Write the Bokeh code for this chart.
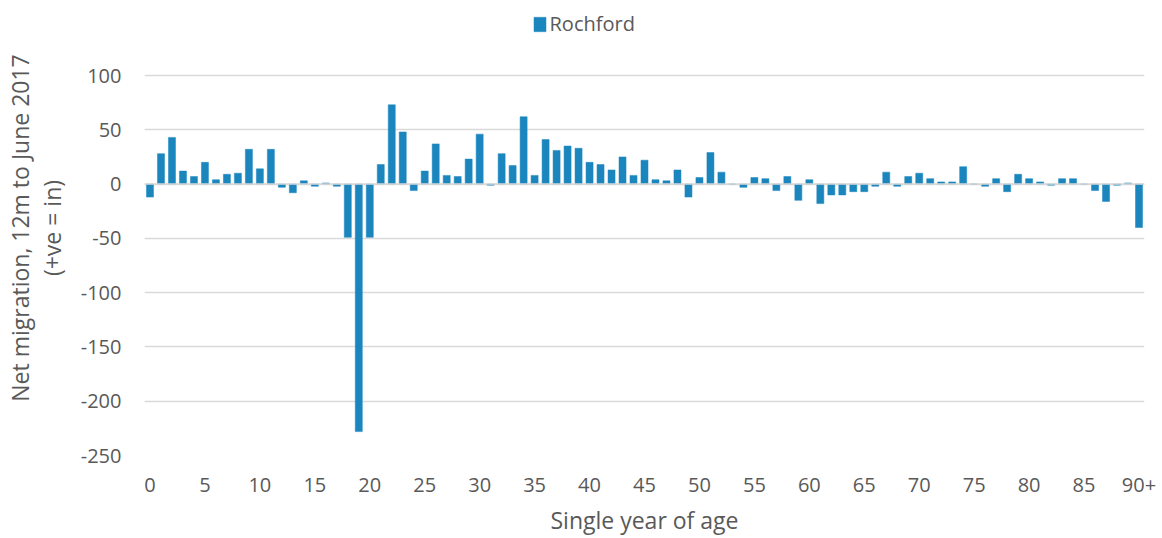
from bokeh.plotting import figure
from bokeh.models import ColumnDataSource, Range1d, FixedTicker, Legend, LegendItem, Span
from bokeh.embed import file_html
from bokeh.resources import INLINE

ages = list(range(91))
age_tick_values = list(range(0, 91, 5))
age_tick_labels = [str(a) for a in range(0, 90, 5)] + ["90+"]
net_migration = [-12, 28, 43, 12, 7, 20, 4, 9, 10, 32,
                 14, 32, -3, -8, 3, -2, 1, -2, -49, -228,
                 -49, 18, 73, 48, -6, 12, 37, 8, 7, 23,
                 46, -1, 28, 17, 62, 8, 41, 31, 35, 33,
                 20, 18, 13, 25, 8, 22, 4, 3, 13, -12,
                 6, 29, 11, 0, -3, 6, 5, -6, 7, -15,
                 4, -18, -10, -10, -7, -7, -2, 11, -2, 7,
                 10, 5, 2, 2, 16, 0, -2, 5, -7, 9,
                 5, 2, -1, 5, 5, 0, -6, -16, -1, 1, -40]
y_ticks = [-250, -200, -150, -100, -50, 0, 50, 100]
y_tick_labels = ["-250", "-200", "-150", "-100", "-50", "0", "50", "100"]
series_name = "Rochford"

FONT = "Open Sans"
TXT = "#595959"
GRID = "#d9d9d9"
BAR = "#1b86be"

# plot area spans 380 px for 350 units; extend the frame to the top edge so the
# legend (drawn inside the frame) is not clipped
PX_PER_UNIT = 380 / 350
Y_TOP = 100 + 75 / PX_PER_UNIT

src = ColumnDataSource(dict(age=ages, net=net_migration))

p = figure(width=1162, height=538, output_backend="svg", toolbar_location=None,
           x_range=Range1d(-0.5, 90.5), y_range=Range1d(-250, Y_TOP),
           min_border_left=143, min_border_right=18, min_border_top=0, min_border_bottom=83)
p.outline_line_color = None
p.background_fill_color = "white"
p.border_fill_color = "white"

r = p.vbar(x="age", top="net", width=0.64, bottom=0, source=src,
           fill_color=BAR, line_color=BAR, line_width=0.5)

p.add_layout(Span(location=0, dimension="width", line_color=GRID, line_width=1.5))

# axes
p.xaxis.ticker = FixedTicker(ticks=age_tick_values)
p.xaxis.major_label_overrides = {v: l for v, l in zip(age_tick_values, age_tick_labels)}
p.yaxis.ticker = FixedTicker(ticks=y_ticks)
p.yaxis.major_label_overrides = {v: l for v, l in zip(y_ticks, y_tick_labels)}
for ax in (p.xaxis, p.yaxis):
    ax.axis_line_color = None
    ax.major_tick_line_color = None
    ax.minor_tick_line_color = None
    ax.major_tick_out = 0
    ax.major_tick_in = 0
    ax.major_label_text_font = FONT
    ax.major_label_text_font_size = "20px"
    ax.major_label_text_color = TXT
    ax.axis_label_text_font = FONT
    ax.axis_label_text_font_size = "23px"
    ax.axis_label_text_font_style = "normal"
    ax.axis_label_text_color = TXT

p.xaxis.axis_label = "Single year of age"
p.xaxis.major_label_standoff = 22
p.xaxis.axis_label_standoff = 9
p.yaxis.axis_label = "Net migration, 12m to June 2017\n(+ve = in)"
p.yaxis.axis_label_text_line_height = 1.0
p.yaxis.major_label_standoff = 23
p.yaxis.axis_label_standoff = 10

p.xgrid.grid_line_color = None
p.ygrid.grid_line_color = GRID
p.ygrid.grid_line_width = 1.5

legend = Legend(items=[LegendItem(label=series_name, renderers=[r])],
                location=(387.5, 418), orientation="horizontal",
                padding=0, margin=0, spacing=0,
                glyph_width=15, glyph_height=18, label_standoff=3,
                label_text_font=FONT, label_text_font_size="20px", label_text_color=TXT,
                border_line_color=None, background_fill_alpha=0)
p.add_layout(legend, "center")

open("out.html", "w").write(file_html(p, INLINE))
